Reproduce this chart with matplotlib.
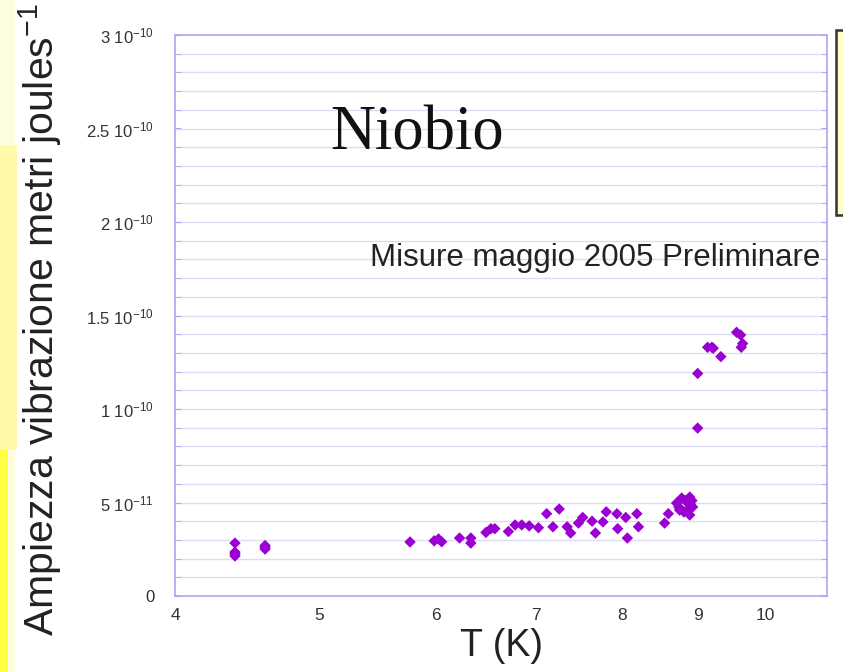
import matplotlib
matplotlib.use("Agg")
import matplotlib.pyplot as plt
from matplotlib.patches import Rectangle
from matplotlib.ticker import FixedLocator, NullFormatter, NullLocator

# Data: temperature (K) and amplitude (units of 1e-11 m/J)
T_K = [4.39, 4.39, 4.39, 4.39, 4.60, 4.60, 4.60,
       5.76, 5.98, 6.02, 6.05, 6.22, 6.33, 6.33,
       6.48, 6.53, 6.57, 6.71, 6.78, 6.85, 6.93, 7.03,
       7.12, 7.26, 7.19, 7.35, 7.39, 7.48, 7.53, 7.64, 7.68,
       7.77, 7.81, 7.94, 7.95, 8.05, 8.07, 8.19, 8.21,
       8.55, 8.60, 8.71, 8.78, 8.89, 8.74, 8.85, 8.90, 8.86,
       8.93, 8.81, 8.89, 8.75, 8.83, 8.92,
       9.00, 9.00, 9.14, 9.20, 9.22, 9.33, 9.56, 9.62, 9.65, 9.63]
amp_e11 = [2.83, 2.35, 2.14, 2.25, 2.62, 2.51, 2.70,
           2.89, 2.95, 3.05, 2.90, 3.10, 3.10, 2.83,
           3.40, 3.60, 3.60, 3.45, 3.80, 3.80, 3.75, 3.65,
           4.40, 4.65, 3.70, 3.70, 3.37, 3.90, 4.20, 4.00, 3.37,
           3.96, 4.50, 4.40, 3.60, 4.20, 3.10, 4.40, 3.70,
           3.90, 4.40, 4.97, 5.24, 5.29, 4.76, 5.03, 4.90, 4.60,
           4.76, 4.49, 4.33, 4.60, 5.10, 5.10,
           8.98, 11.9, 13.3, 13.3, 13.25, 12.8, 14.1, 13.96, 13.5, 13.3]
amplitude = [a * 1e-11 for a in amp_e11]

x_ticks = [4, 5, 6, 7, 8, 9, 10]
x_tick_labels = ["4", "5", "6", "7", "8", "9", "10"]
y_ticks = [0, 5e-11, 1e-10, 1.5e-10, 2e-10, 2.5e-10, 3e-10]
y_tick_labels = ["0", r"5 10$^{-11}$", r"1 10$^{-10}$", r"1.5 10$^{-10}$",
                 r"2 10$^{-10}$", r"2.5 10$^{-10}$", r"3 10$^{-10}$"]
y_grid = [i * 1e-11 for i in range(1, 30)]

plt.rcParams['font.family'] = ['Liberation Sans', 'DejaVu Sans']
plt.rcParams['mathtext.fontset'] = 'custom'
plt.rcParams['mathtext.rm'] = 'Liberation Sans'
plt.rcParams['mathtext.it'] = 'Liberation Sans'

fig = plt.figure(figsize=(8.43, 6.72), dpi=100, facecolor='white')

# background decorations (slide remnants)
fig.patches.append(Rectangle((0, 0), 15/843, 1, transform=fig.transFigure,
                             facecolor='#fffde0', edgecolor='none', zorder=0))
fig.patches.append(Rectangle((0, 1 - 450/672), 17/843, 305/672, transform=fig.transFigure,
                             facecolor='#fff9a8', edgecolor='none', zorder=0))
fig.patches.append(Rectangle((0, 0), 8/843, 1 - 450/672, transform=fig.transFigure,
                             facecolor='#ffff40', edgecolor='none', zorder=0))
fig.patches.append(Rectangle((836/843, 1 - 215/672), 20/843, 185/672, transform=fig.transFigure,
                             facecolor='#ffffc8', edgecolor='#333333', linewidth=1.8, zorder=0))

ax = fig.add_axes([175/843, 1 - 596/672, (827 - 175)/843, (596 - 35)/672])
ax.set_facecolor('white')
ax.set_xscale('log')
ax.set_xlim(4, 11)
ax.set_ylim(0, 3e-10)

frame = '#a8a8f0'
for s in ax.spines.values():
    s.set_color(frame)
    s.set_linewidth(1.2)

for yg in y_grid:
    ax.axhline(yg, color='#dcdcf6', linewidth=1.0, zorder=1)

ax.xaxis.set_major_locator(FixedLocator(x_ticks))
ax.xaxis.set_minor_locator(NullLocator())
ax.xaxis.set_minor_formatter(NullFormatter())
ax.set_xticklabels(x_tick_labels)
ax.set_yticks(y_ticks)
ax.set_yticklabels(y_tick_labels)
ax.yaxis.set_minor_locator(FixedLocator(y_grid))
ax.tick_params(axis='x', which='major', length=0, labelsize=12.5, pad=9, colors='#333333')
ax.tick_params(axis='y', which='both', direction='in', length=4, color=frame,
               left=True, right=True, labelsize=12, colors='#333333', pad=15)
ax.tick_params(axis='y', which='both', color=frame)

ax.scatter(T_K, amplitude, marker='D', s=34, color='#9a00d2', edgecolors='none', zorder=3)

fig.text(330/843, 1 - 150/672, "Niobio", fontsize=45, family='Liberation Serif',
         color='#111111', va='baseline', ha='left')
ax.set_xlabel("T (K)", fontsize=27, labelpad=3, color='#222222')
fig.text(370/843, 1 - 258/672, "Misure maggio 2005 Preliminare", fontsize=22.5,
         color='#222222', va='center', ha='left')
fig.text(40/843, 1 - 320/672, r"Ampiezza vibrazione metri joules$^{-1}$", fontsize=29.5,
         rotation=90, va='center', ha='center', color='#222222')

fig.savefig("out.png", dpi=100, facecolor='white')
